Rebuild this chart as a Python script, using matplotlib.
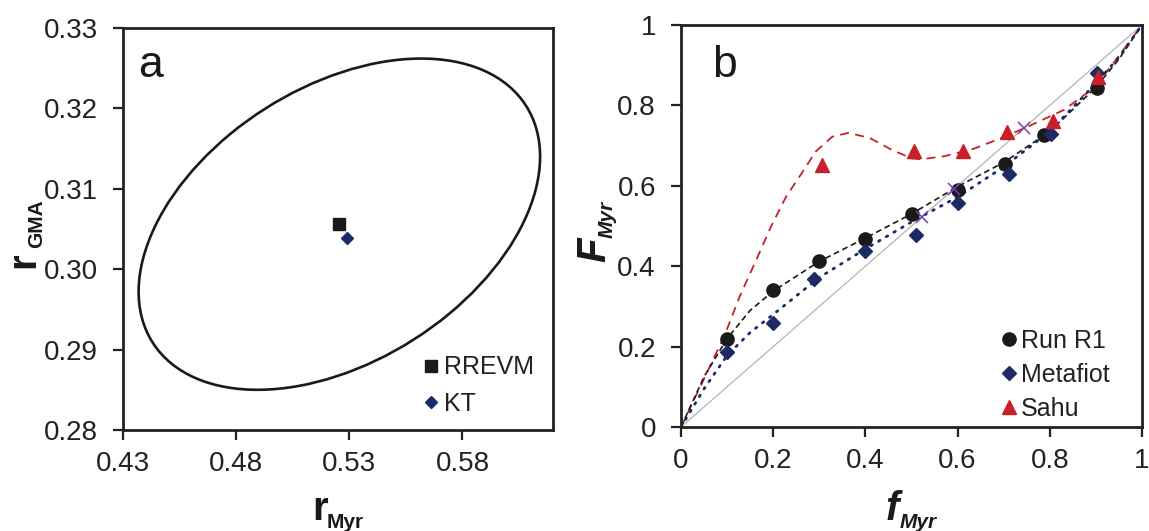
import numpy as np
import matplotlib
matplotlib.use("Agg")
import matplotlib.pyplot as plt
import matplotlib.transforms as transforms
from matplotlib.patches import Ellipse

plt.rcParams['font.family'] = ['Liberation Sans', 'DejaVu Sans']

# ---- panel a: reactivity ratio estimates and joint confidence region ----
rrevm_point = (0.5256, 0.3056)
kt_point = (0.5290, 0.3039)
# joint confidence region (centre, half-extent in x and y, correlation)
jcr_center = (0.5256, 0.3056)
jcr_sx = 0.0887
jcr_sy = 0.0206
jcr_rho = 0.408

# ---- panel b: copolymer composition F_Myr vs feed f_Myr ----
run_f = [0.100, 0.199, 0.300, 0.400, 0.501, 0.601, 0.702, 0.788, 0.902]
run_F = [0.218, 0.341, 0.414, 0.468, 0.531, 0.590, 0.654, 0.726, 0.843]

meta_f = [0.100, 0.199, 0.289, 0.400, 0.509, 0.601, 0.711, 0.802, 0.902]
meta_F = [0.187, 0.258, 0.369, 0.438, 0.478, 0.558, 0.629, 0.729, 0.880]

sahu_f = [0.305, 0.505, 0.611, 0.708, 0.808, 0.905]
sahu_F = [0.651, 0.687, 0.687, 0.733, 0.762, 0.871]

# fitted composition curves
run_fit_f = [0, 0.05, 0.10, 0.15, 0.20, 0.30, 0.40, 0.50, 0.60, 0.70, 0.80, 0.90, 0.95, 1.0]
run_fit_F = [0, 0.125, 0.220, 0.290, 0.338, 0.412, 0.470, 0.530, 0.598, 0.658, 0.735, 0.845, 0.915, 1.0]

meta_fit_f = [0, 0.05, 0.10, 0.15, 0.20, 0.30, 0.40, 0.50, 0.60, 0.70, 0.80, 0.90, 0.95, 1.0]
meta_fit_F = [0, 0.095, 0.178, 0.235, 0.280, 0.372, 0.443, 0.510, 0.572, 0.647, 0.735, 0.855, 0.920, 1.0]

sahu_fit_f = [0, 0.05, 0.095, 0.127, 0.163, 0.195, 0.228, 0.264, 0.292, 0.328, 0.364,
              0.411, 0.458, 0.501, 0.522, 0.573, 0.637, 0.702, 0.752, 0.831, 0.889, 0.932, 1.0]
sahu_fit_F = [0, 0.120, 0.229, 0.324, 0.415, 0.498, 0.573, 0.635, 0.685, 0.722, 0.732,
              0.718, 0.689, 0.668, 0.666, 0.674, 0.693, 0.722, 0.747, 0.789, 0.838, 0.896, 1.0]

# azeotropic points (curve crossing the diagonal)
azeo_f = [0.523, 0.592, 0.745]
azeo_F = [0.523, 0.591, 0.744]

BLACK = "#1a1a1a"
NAVY = "#1c2a66"
RED = "#c8202a"
PURPLE = "#7a3fb0"

fig = plt.figure(figsize=(11.49, 5.31), dpi=100)
W, H = 1149.0, 531.0
ax1 = fig.add_axes([123 / W, 1 - 430 / H, 430 / W, 402 / H])
ax2 = fig.add_axes([681 / W, 1 - 427 / H, 461 / W, 402 / H])

for ax in (ax1, ax2):
    for s in ax.spines.values():
        s.set_linewidth(2.0)
        s.set_color("#222222")
    ax.tick_params(direction="out", length=7, width=1.6, labelsize=20,
                   color="#222222", labelcolor="#222222")
    ax.tick_params(axis="x", pad=8)
    ax.tick_params(axis="y", pad=11)

# ---- panel a ----
ell = Ellipse((0, 0), width=2 * np.sqrt(1 + jcr_rho), height=2 * np.sqrt(1 - jcr_rho),
              facecolor="none", edgecolor=BLACK, linewidth=1.9)
tr = (transforms.Affine2D().rotate_deg(45).scale(jcr_sx, jcr_sy)
      .translate(*jcr_center))
ell.set_transform(tr + ax1.transData)
ax1.add_patch(ell)

ax1.plot([rrevm_point[0]], [rrevm_point[1]], "s", color=BLACK, markersize=8.5,
         linestyle="none", label="RREVM")
ax1.plot([kt_point[0]], [kt_point[1]], "D", color=NAVY, markersize=6.5,
         linestyle="none", label="KT")

ax1.set_xlim(0.43, 0.62)
ax1.set_ylim(0.28, 0.33)
ax1.set_xticks([0.43, 0.48, 0.53, 0.58])
ax1.set_yticks([0.28, 0.29, 0.30, 0.31, 0.32, 0.33])
ax1.xaxis.set_major_formatter(matplotlib.ticker.FormatStrFormatter("%.2f"))
ax1.yaxis.set_major_formatter(matplotlib.ticker.FormatStrFormatter("%.2f"))
ax1.text(0.035, 0.878, "a", transform=ax1.transAxes, fontsize=32,
         va="baseline", ha="left", color=BLACK)
leg1 = ax1.legend(loc="lower right", bbox_to_anchor=(0.955, 0.035), frameon=False,
                  fontsize=18, handlelength=0.6, handletextpad=0.2,
                  labelspacing=0.5, borderaxespad=0, borderpad=0)
for t in leg1.get_texts():
    t.set_color("#222222")

# ---- panel b ----
ax2.plot([0, 1], [0, 1], color="#b5b5b5", linewidth=0.9, zorder=1)
ax2.plot(sahu_fit_f, sahu_fit_F, color=RED, linewidth=1.3, dashes=(5, 3.5), zorder=2)
ax2.plot(run_fit_f, run_fit_F, color=BLACK, linewidth=1.2, dashes=(3.5, 2.2), zorder=2)
ax2.plot(meta_fit_f, meta_fit_F, color=NAVY, linewidth=2.0, dashes=(0.6, 2.6),
         dash_capstyle="round", zorder=2)

ax2.plot(run_f, run_F, "o", color=BLACK, markersize=9.5, linestyle="none",
         label="Run R1", zorder=4)
ax2.plot(meta_f, meta_F, "D", color=NAVY, markersize=7.5, linestyle="none",
         label="Metafiot", zorder=4)
ax2.plot(sahu_f, sahu_F, "^", color=RED, markersize=9.5, linestyle="none",
         label="Sahu", zorder=4)
ax2.plot(azeo_f, azeo_F, "x", color=PURPLE, markersize=8, markeredgewidth=1.1,
         linestyle="none", zorder=5)

ax2.set_xlim(0, 1)
ax2.set_ylim(0, 1)
ticks = [0, 0.2, 0.4, 0.6, 0.8, 1]
ax2.set_xticks(ticks)
ax2.set_yticks(ticks)
ax2.set_xticklabels(["0", "0.2", "0.4", "0.6", "0.8", "1"])
ax2.set_yticklabels(["0", "0.2", "0.4", "0.6", "0.8", "1"])
ax2.text(0.067, 0.871, "b", transform=ax2.transAxes, fontsize=32,
         va="baseline", ha="left", color=BLACK)
leg2 = ax2.legend(loc="lower right", bbox_to_anchor=(0.93, 0.015), frameon=False,
                  fontsize=18, handlelength=0.6, handletextpad=0.2,
                  labelspacing=0.4, borderaxespad=0, borderpad=0)
for t in leg2.get_texts():
    t.set_color("#222222")


# ---- axis labels with large main symbol and small subscript ----
def fig_xy(px, py):
    return px / W, 1 - py / H


def label(main, sub, main_px, sub_px, rot=0, italic=False):
    style = "italic" if italic else "normal"
    fig.text(*fig_xy(*main_px), main, fontsize=29, fontweight="bold", fontstyle=style,
             rotation=rot, rotation_mode="anchor", ha="left", va="baseline", color=BLACK)
    fig.text(*fig_xy(*sub_px), sub, fontsize=15, fontweight="bold", fontstyle=style,
             rotation=rot, rotation_mode="anchor", ha="left", va="baseline", color=BLACK)


label("r", "Myr", (312, 520), (327, 528))
label("r", "GMA", (34, 268), (42, 248), rot=90)
label("f", "Myr", (886, 520), (900, 528), italic=True)
label("F", "Myr", (605, 262), (613, 238), rot=90, italic=True)

fig.savefig("out.png", dpi=100)
